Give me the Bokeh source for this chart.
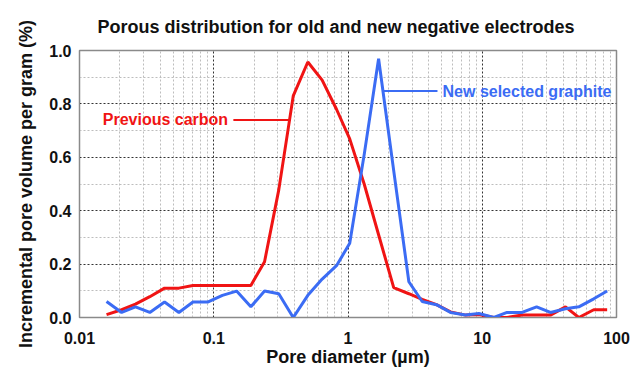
from bokeh.plotting import figure
from bokeh.models import FixedTicker
from bokeh.embed import file_html
from bokeh.resources import INLINE
from bokeh.core.properties import value

# ---- data ----
diameter = [0.0159, 0.0206, 0.0261, 0.0334, 0.043, 0.055, 0.070, 0.090, 0.116, 0.148,
            0.189, 0.239, 0.305, 0.391, 0.502, 0.642, 0.821, 1.03, 1.32, 1.69,
            2.19, 2.84, 3.57, 4.56, 5.80, 7.50, 9.44, 12.2, 15.3, 19.8,
            25.4, 32.2, 41.7, 52.4, 67.7, 85.2]
previous_carbon = [0.011, 0.029, 0.050, 0.078, 0.110, 0.110, 0.120, 0.120, 0.120, 0.120,
                   0.120, 0.209, 0.478, 0.830, 0.957, 0.889, 0.780, 0.669, 0.500, 0.310,
                   0.112, 0.089, 0.068, 0.048, 0.021, 0.009, 0.011, 0.000, 0.000, 0.009,
                   0.009, 0.009, 0.040, 0.000, 0.029, 0.029]
new_graphite = [0.060, 0.019, 0.040, 0.019, 0.058, 0.019, 0.058, 0.058, 0.083, 0.099,
                0.040, 0.099, 0.089, 0.000, 0.083, 0.144, 0.194, 0.278, 0.610, 0.969,
                0.550, 0.134, 0.060, 0.048, 0.019, 0.009, 0.015, 0.000, 0.019, 0.019,
                0.040, 0.019, 0.033, 0.040, 0.070, 0.099]

x_ticks = [0.01, 0.1, 1, 10, 100]
x_tick_labels = ["0.01", "0.1", "1", "10", "100"]
y_ticks = [0.0, 0.2, 0.4, 0.6, 0.8, 1.0]
y_tick_labels = ["0.0", "0.2", "0.4", "0.6", "0.8", "1.0"]

RED = "#f01414"
BLUE = "#3b6cf4"
FONT = "Liberation Sans"
INK = "#111111"

p = figure(width=644, height=369, x_axis_type="log",
           x_range=(0.01, 100), y_range=(0, 1.0),
           output_backend="svg", toolbar_location=None,
           min_border_left=79, min_border_right=28,
           min_border_top=49, min_border_bottom=50)

p.title.text = "Porous distribution for old and new negative electrodes"
p.title.text_font = FONT
p.title.text_font_size = "18px"
p.title.text_font_style = "bold"
p.title.text_color = INK
p.title.align = "left"
p.title.offset = 18
p.title.standoff = 28

# grids
minor_x = [m * d for d in x_ticks[:-1] for m in range(2, 10)]
p.xaxis.ticker = FixedTicker(ticks=x_ticks, minor_ticks=minor_x)
p.yaxis.ticker = FixedTicker(ticks=y_ticks, minor_ticks=[0.1, 0.3, 0.5, 0.7, 0.9])
p.xaxis.major_label_overrides = dict(zip(x_ticks, x_tick_labels))
p.yaxis.major_label_overrides = dict(zip(y_ticks, y_tick_labels))

for g in (p.xgrid, p.ygrid):
    g.grid_line_color = "#333333"
    g.grid_line_dash = "2 2"
    g.grid_line_width = 1
    g.minor_grid_line_color = "#bdbdbd"
    g.minor_grid_line_dash = "2 2"
    g.minor_grid_line_width = 1

p.outline_line_color = "#8a8a8a"
p.outline_line_width = 1.5

for ax in (p.xaxis, p.yaxis):
    ax.axis_line_color = "#8a8a8a"
    ax.major_tick_line_color = None
    ax.minor_tick_line_color = None
    ax.major_label_text_font = FONT
    ax.major_label_text_font_style = "bold"
    ax.major_label_text_font_size = "16px"
    ax.major_label_text_color = INK
    ax.axis_label_text_font = FONT
    ax.axis_label_text_font_style = "bold"
    ax.axis_label_text_font_size = "18px"
    ax.axis_label_text_color = INK

p.xaxis.axis_label = "Pore diameter (µm)"
p.xaxis.major_label_standoff = 8
p.xaxis.axis_label_standoff = 0
p.yaxis.axis_label = "Incremental pore volume per gram (%)"
p.yaxis.major_label_standoff = 2
p.yaxis.axis_label_standoff = 10

p.line(diameter, previous_carbon, line_color=RED, line_width=3)
p.line(diameter, new_graphite, line_color=BLUE, line_width=3)

# annotations with leader lines
p.line([0.140, 0.366], [0.74, 0.74], line_color=RED, line_width=2)
p.text(x=[0.128], y=[0.74], text=["Previous carbon"], text_color=RED,
       text_font=value(FONT), text_font_style="bold", text_font_size="16px",
       text_align="right", text_baseline="middle")
p.line([1.80, 4.64], [0.848, 0.848], line_color=BLUE, line_width=2)
p.text(x=[5.06], y=[0.848], text=["New selected graphite"], text_color=BLUE,
       text_font=value(FONT), text_font_style="bold", text_font_size="16px",
       text_align="left", text_baseline="middle")

open("out.html", "w").write(file_html(p, INLINE))
